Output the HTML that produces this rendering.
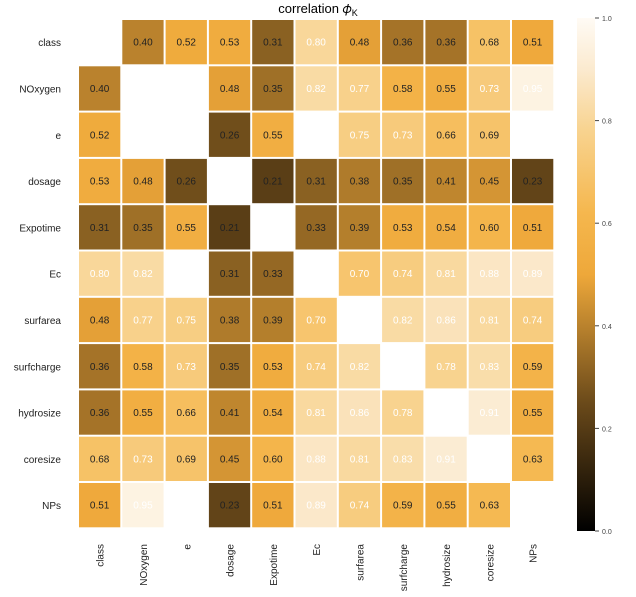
<!DOCTYPE html>
<html><head><meta charset="utf-8"><style>
body{margin:0;background:#fff;font-family:"Liberation Sans",sans-serif}
svg text{font-family:"Liberation Sans",sans-serif}
</style></head><body>
<svg id="c" width="636" height="592" xmlns="http://www.w3.org/2000/svg">
<defs><linearGradient id="cg" x1="0" y1="1" x2="0" y2="0">
<stop offset="0" stop-color="#000000"/><stop offset="0.25" stop-color="#6b4a1a"/><stop offset="0.5" stop-color="#eea83a"/><stop offset="0.62" stop-color="#f5b74e"/><stop offset="0.78" stop-color="#f8d38f"/><stop offset="0.9" stop-color="#fbeacf"/><stop offset="1" stop-color="#fffbf5"/></linearGradient></defs>
<text x="318" y="13" text-anchor="middle" font-size="13">correlation 𝜙<tspan font-size="9" dy="3">K</tspan></text>
<g id="cells"></g>
<rect x="577" y="18" width="18" height="513" fill="url(#cg)"/>
<g id="cb"></g>
</svg>
<script>
const labels=["class","NOxygen","e","dosage","Expotime","Ec","surfarea","surfcharge","hydrosize","coresize","NPs"];
const N=null;
const values=[
[N,.40,.52,.53,.31,.80,.48,.36,.36,.68,.51],
[.40,N,N,.48,.35,.82,.77,.58,.55,.73,.95],
[.52,N,N,.26,.55,N,.75,.73,.66,.69,N],
[.53,.48,.26,N,.21,.31,.38,.35,.41,.45,.23],
[.31,.35,.55,.21,N,.33,.39,.53,.54,.60,.51],
[.80,.82,N,.31,.33,N,.70,.74,.81,.88,.89],
[.48,.77,.75,.38,.39,.70,N,.82,.86,.81,.74],
[.36,.58,.73,.35,.53,.74,.82,N,.78,.83,.59],
[.36,.55,.66,.41,.54,.81,.86,.78,N,.91,.55],
[.68,.73,.69,.45,.60,.88,.81,.83,.91,N,.63],
[.51,.95,N,.23,.51,.89,.74,.59,.55,.63,N]];
const cbTicks=[0,0.2,0.4,0.6,0.8,1.0];
const stops=[[0,[0,0,0]],[.25,[107,74,26]],[.5,[238,168,58]],[.62,[245,183,78]],[.78,[248,211,143]],[.9,[251,234,207]],[1,[255,251,245]]];
function col(v){for(let i=1;i<stops.length;i++){if(v<=stops[i][0]){const a=stops[i-1],b=stops[i],t=(v-a[0])/(b[0]-a[0]);return "rgb("+a[1].map((c,k)=>Math.round(c+(b[1][k]-c)*t)).join(",")+")";}}return "rgb(255,251,245)";}
const X0=78,Y0=19,CW=43.3,CH=46.3,NS="http://www.w3.org/2000/svg";
const g=document.getElementById("cells");
function mk(t,a){const e=document.createElementNS(NS,t);for(const k in a)e.setAttribute(k,a[k]);return e;}
const xs=i=>X0+i*CW, ys=j=>Y0+j*CH;
values.forEach((row,j)=>{row.forEach((v,i)=>{if(v===null)return;
const r=mk("rect",{x:xs(i)+1,y:ys(j)+1,width:CW-2,height:CH-2,fill:col(v)});

g.appendChild(r);
const t=mk("text",{x:xs(i)+CW/2,y:ys(j)+CH/2+3.5,"text-anchor":"middle","font-size":"10",fill:v>=0.7?"#fff":"#222"});
t.textContent=v.toFixed(2);

g.appendChild(t);});});
labels.forEach((l,j)=>{const t=mk("text",{x:X0-17,y:ys(j)+CH/2+4,"text-anchor":"end","font-size":"10",fill:"#222"});t.textContent=l;

g.appendChild(t);
const cx=xs(j)+CW/2+4,t2=mk("text",{x:cx,y:544,"text-anchor":"end","font-size":"10",fill:"#222",transform:"rotate(-90 "+cx+" 544)"});t2.textContent=l;

g.appendChild(t2);});
const cb=document.getElementById("cb");
cbTicks.forEach(v=>{const y=531-v*513;
cb.appendChild(mk("line",{x1:595,x2:599,y1:y,y2:y,stroke:"#444","stroke-width":"1"}));
const t=mk("text",{x:602,y:y+3,"font-size":"7",fill:"#444"});t.textContent=v.toFixed(1);

cb.appendChild(t);});
</script>
</body></html>
